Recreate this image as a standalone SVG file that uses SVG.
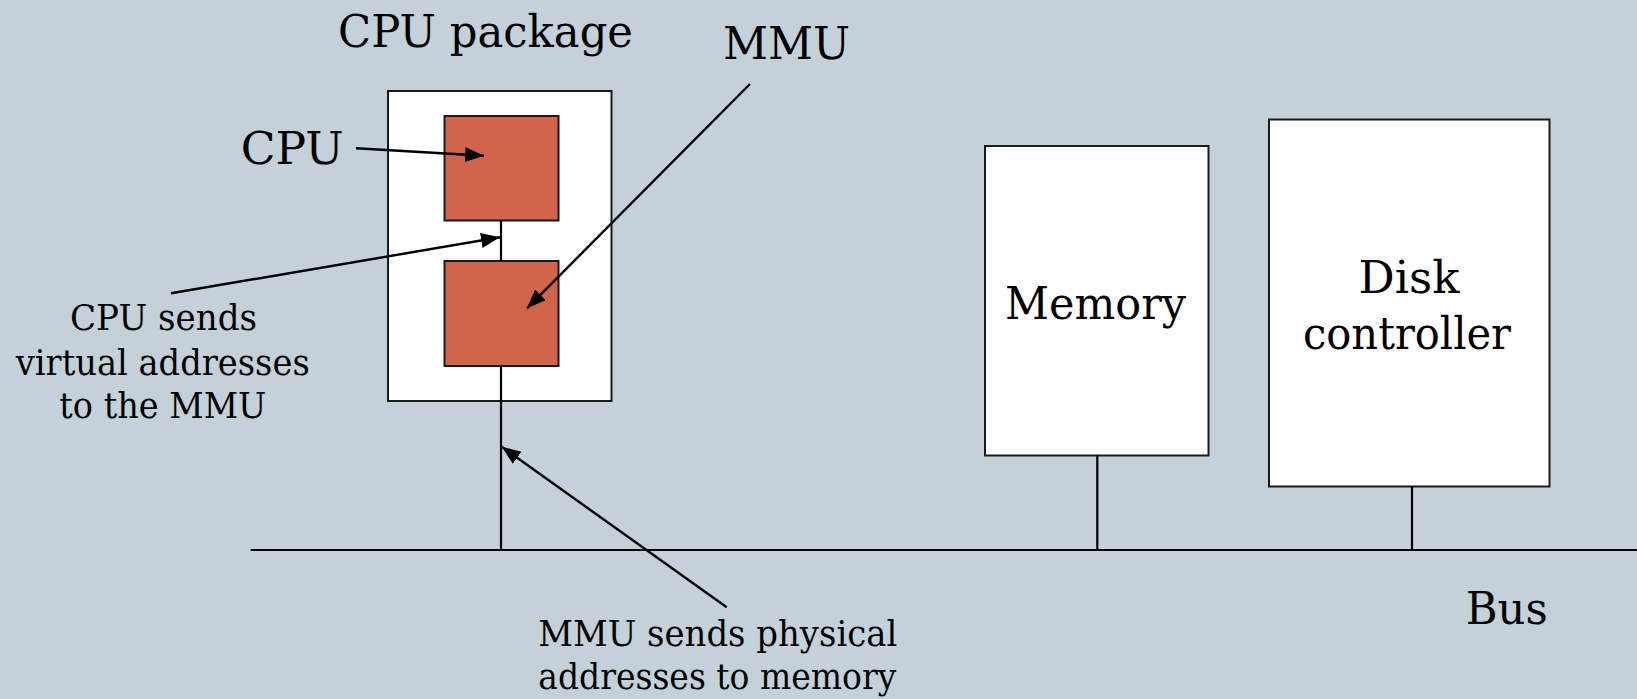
<svg xmlns="http://www.w3.org/2000/svg" width="1637" height="699" viewBox="0 0 1637 699">
<style>
.bg{fill:#C5D1D8}
.box{fill:#FFFFFF;stroke:#1a1a1a;stroke-width:2}
.chip{fill:#D2644B;stroke:#1a1a1a;stroke-width:2}
.wire{stroke:#000;stroke-width:2.2;fill:none}
.arr{stroke:#000;stroke-width:2.4;fill:none;marker-end:url(#ah)}
.big{font-family:"DejaVu Serif","Liberation Serif",serif;font-size:45px;fill:#000}
.small{font-family:"DejaVu Serif","Liberation Serif",serif;font-size:35px;fill:#000}
</style>
<defs>
<marker id="ah" markerUnits="userSpaceOnUse" markerWidth="22" markerHeight="18" refX="19" refY="7.5" orient="auto">
<path d="M0,0 L19,7.5 L0,15 z" fill="#000"/>
</marker>
</defs>
<rect class="bg" x="0" y="0" width="1637" height="699"/>

<g id="cpu-package">
<rect class="box" x="388" y="91" width="223.5" height="310"/>
<text class="big" x="338" y="47" textLength="295" lengthAdjust="spacingAndGlyphs">CPU package</text>
</g>
<g id="cpu">
<rect class="chip" x="444.5" y="116" width="114" height="104.5"/>
</g>
<g id="mmu">
<rect class="chip" x="444.5" y="261" width="114" height="105"/>
</g>
<g id="memory">
<rect class="box" x="985" y="146" width="223.5" height="309.5"/>
<text class="big" x="1005" y="318.5" textLength="181" lengthAdjust="spacingAndGlyphs">Memory</text>
</g>
<g id="disk-controller">
<rect class="box" x="1269" y="119.5" width="280.5" height="367"/>
<text class="big" x="1358.5" y="292.7" textLength="101" lengthAdjust="spacingAndGlyphs">Disk</text>
<text class="big" x="1303" y="349.3" textLength="208" lengthAdjust="spacingAndGlyphs">controller</text>
</g>
<g id="bus">
<line class="wire" x1="250.6" y1="550" x2="1637" y2="550"/>
<text class="big" x="1465.7" y="623.5" textLength="82" lengthAdjust="spacingAndGlyphs">Bus</text>
</g>
<g id="labels">
<text class="big" x="240.7" y="164.3" textLength="103" lengthAdjust="spacingAndGlyphs">CPU</text>
<text class="big" x="723" y="59.3" textLength="127" lengthAdjust="spacingAndGlyphs">MMU</text>
<text class="small" x="70" y="330" textLength="187" lengthAdjust="spacingAndGlyphs">CPU sends</text>
<text class="small" x="15.7" y="375" textLength="294" lengthAdjust="spacingAndGlyphs">virtual addresses</text>
<text class="small" x="59.3" y="418.3" textLength="207" lengthAdjust="spacingAndGlyphs">to the MMU</text>
<text class="small" x="538.3" y="645.7" textLength="359" lengthAdjust="spacingAndGlyphs">MMU sends physical</text>
<text class="small" x="538.3" y="689.3" textLength="358" lengthAdjust="spacingAndGlyphs">addresses to memory</text>
</g>
<g id="connectors">
<line class="wire" x1="501" y1="220.5" x2="501" y2="261"/>
<line class="wire" x1="501" y1="366" x2="501" y2="550"/>
<line class="wire" x1="1097.3" y1="455.5" x2="1097.3" y2="550"/>
<line class="wire" x1="1412" y1="486.5" x2="1412" y2="550"/>
<line class="arr" x1="356" y1="148.3" x2="484" y2="155.7"/>
<line class="arr" x1="171" y1="293.3" x2="500" y2="237.3"/>
<line class="arr" x1="750" y1="84" x2="527" y2="308.3"/>
<line class="arr" x1="726.7" y1="607.3" x2="501.7" y2="446.7"/>
</g>
</svg>
